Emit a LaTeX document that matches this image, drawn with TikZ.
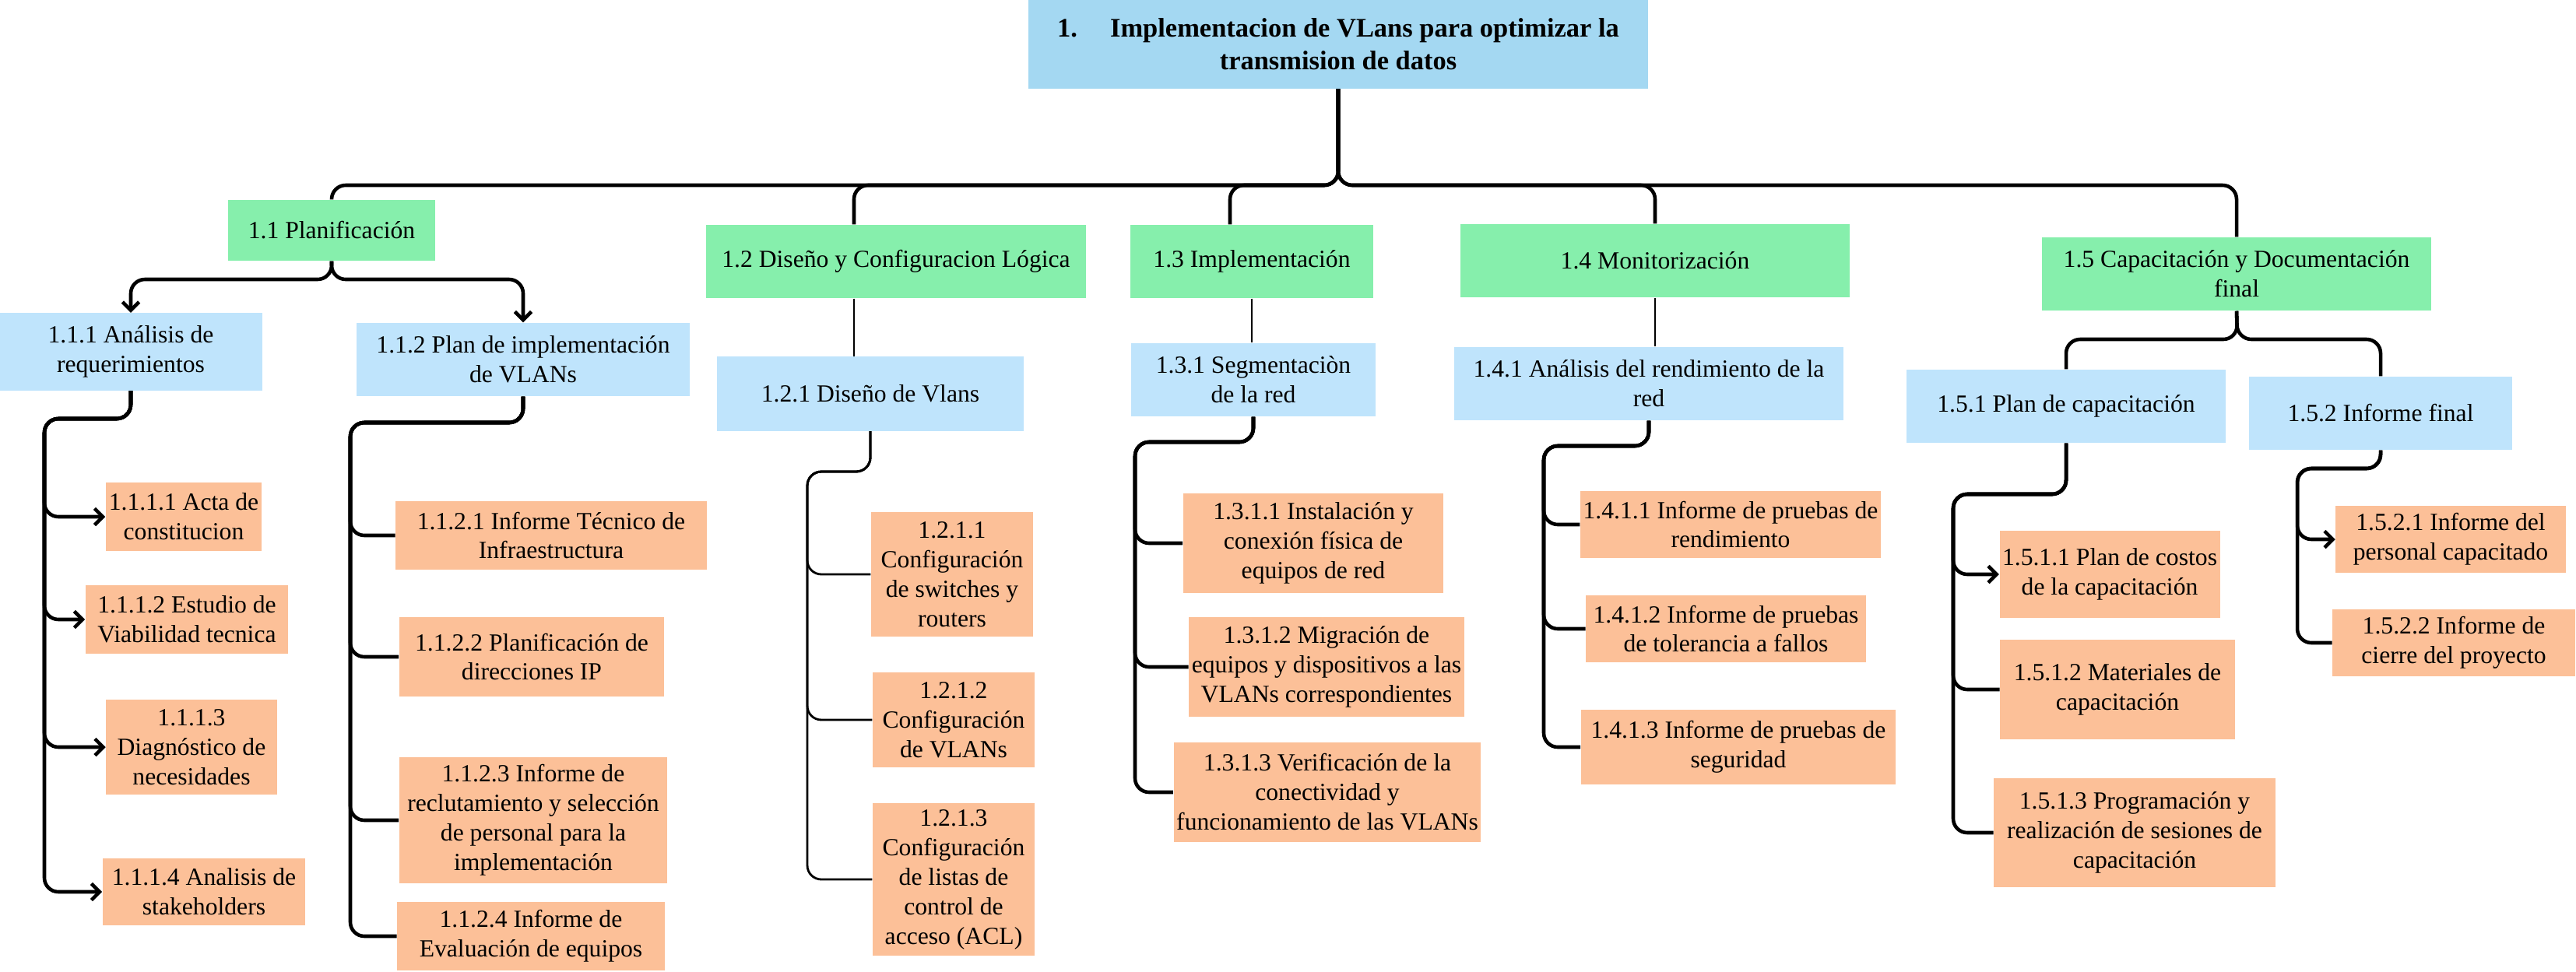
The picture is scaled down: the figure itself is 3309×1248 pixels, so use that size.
\documentclass[tikz,border=0pt]{standalone}
\usepackage{fontspec}
\setmainfont{Liberation Serif}
\usepackage{tikz}
\usepackage{xcolor}
\usetikzlibrary{positioning,shapes,arrows.meta,calc}
\definecolor{rootblue}{RGB}{164,216,242}
\definecolor{nodegreen}{RGB}{134,239,172}
\definecolor{nodeblue}{RGB}{191,228,252}
\definecolor{nodeorange}{RGB}{252,192,152}

\begin{document}
\begin{tikzpicture}[x=0.01cm,y=0.01cm]
\tikzstyle{every node}+=[inner sep=1pt,align=center,font=\fontsize{9}{10.8}\selectfont]
\tikzstyle{lvlzero}=[fill=rootblue,font=\fontsize{9.8}{11.9}\selectfont\bfseries]
\tikzstyle{lvlone}=[fill=nodegreen]
\tikzstyle{lvltwo}=[fill=nodeblue]
\tikzstyle{lvlthree}=[fill=nodeorange]
\tikzstyle{conn}=[black,line width=1.3pt,rounded corners=0.18cm]
\tikzstyle{thinconn}=[conn,line width=0.8pt]
\tikzstyle{tip}=[-{Straight Barb[length=3pt,width=6pt]}]
\useasboundingbox (0,0) rectangle (3309,-1248);
\node [lvlzero,minimum width=7.96cm,minimum height=1.13cm] (root) at (1719,-57) {1.\hspace{12pt}Implementacion de VLans para optimizar la\\transmision de datos};
\node [lvlone,minimum width=2.66cm,minimum height=0.78cm] (p1) at (426,-296) {1.1 Planificación};
\node [lvlone,minimum width=4.87cm,minimum height=0.94cm] (p2) at (1151,-336) {1.2 Diseño y Configuracion Lógica};
\node [lvlone,minimum width=3.12cm,minimum height=0.94cm] (p3) at (1608,-336) {1.3 Implementación};
\node [lvlone,minimum width=4.99cm,minimum height=0.94cm] (p4) at (2126,-335) {1.4 Monitorización};
\node [lvlone,minimum width=4.99cm,minimum height=0.94cm] (p5) at (2873,-352) {1.5 Capacitación y Documentación\\final};
\node [lvltwo,minimum width=3.37cm,minimum height=0.99cm] (a1) at (168,-452) {1.1.1 Análisis de\\requerimientos};
\node [lvltwo,minimum width=4.27cm,minimum height=0.94cm] (a2) at (672,-462) {1.1.2 Plan de implementación\\de VLANs};
\node [lvltwo,minimum width=3.94cm,minimum height=0.95cm] (b1) at (1118,-506) {1.2.1 Diseño de Vlans};
\node [lvltwo,minimum width=3.13cm,minimum height=0.94cm] (c1) at (1610,-488) {1.3.1 Segmentaciòn\\de la red};
\node [lvltwo,minimum width=4.99cm,minimum height=0.94cm] (d1) at (2118,-493) {1.4.1 Análisis del rendimiento de la\\red};
\node [lvltwo,minimum width=4.10cm,minimum height=0.94cm] (e1) at (2654,-522) {1.5.1 Plan de capacitación};
\node [lvltwo,minimum width=3.38cm,minimum height=0.94cm] (e2) at (3058,-531) {1.5.2 Informe final};
\node [lvlthree,minimum width=2.00cm,minimum height=0.88cm] (a11) at (236,-664) {1.1.1.1 Acta de\\constitucion};
\node [lvlthree,minimum width=2.60cm,minimum height=0.88cm] (a12) at (240,-796) {1.1.1.2 Estudio de\\Viabilidad tecnica};
\node [lvlthree,minimum width=2.19cm,minimum height=1.22cm] (a13) at (246,-960) {1.1.1.3\\Diagnóstico de\\necesidades};
\node [lvlthree,minimum width=2.60cm,minimum height=0.85cm] (a14) at (262,-1146) {1.1.1.4 Analisis de\\stakeholders};
\node [lvlthree,minimum width=3.99cm,minimum height=0.88cm] (a21) at (708,-688) {1.1.2.1 Informe Técnico de\\Infraestructura};
\node [lvlthree,minimum width=3.40cm,minimum height=1.01cm] (a22) at (683,-844) {1.1.2.2 Planificación de\\direcciones IP};
\node [lvlthree,minimum width=3.44cm,minimum height=1.61cm] (a23) at (685,-1054) {1.1.2.3 Informe de\\reclutamiento y selección\\de personal para la\\implementación};
\node [lvlthree,minimum width=3.43cm,minimum height=0.88cm] (a24) at (682,-1203) {1.1.2.4 Informe de\\Evaluación de equipos};
\node [lvlthree,minimum width=2.08cm,minimum height=1.59cm] (b11) at (1223,-738) {1.2.1.1\\Configuración\\de switches y\\routers};
\node [lvlthree,minimum width=2.08cm,minimum height=1.22cm] (b12) at (1225,-925) {1.2.1.2\\Configuración\\de VLANs};
\node [lvlthree,minimum width=2.08cm,minimum height=1.96cm] (b13) at (1225,-1130) {1.2.1.3\\Configuración\\de listas de\\control de\\acceso (ACL)};
\node [lvlthree,minimum width=3.34cm,minimum height=1.28cm] (c11) at (1687,-698) {1.3.1.1 Instalación y\\conexión física de\\equipos de red};
\node [lvlthree,minimum width=3.51cm,minimum height=1.28cm] (c12) at (1704,-857) {1.3.1.2 Migración de\\equipos y dispositivos a las\\VLANs correspondientes};
\node [lvlthree,minimum width=3.92cm,minimum height=1.28cm] (c13) at (1705,-1018) {1.3.1.3 Verificación de la\\conectividad y\\funcionamiento de las VLANs};
\node [lvlthree,minimum width=3.84cm,minimum height=0.85cm] (d11) at (2223,-674) {1.4.1.1 Informe de pruebas de\\rendimiento};
\node [lvlthree,minimum width=3.59cm,minimum height=0.85cm] (d12) at (2217,-808) {1.4.1.2 Informe de pruebas\\de tolerancia a fallos};
\node [lvlthree,minimum width=4.04cm,minimum height=0.95cm] (d13) at (2233,-960) {1.4.1.3 Informe de pruebas de\\seguridad};
\node [lvlthree,minimum width=2.75cm,minimum height=1.12cm] (e11) at (2710,-738) {1.5.1.1 Plan de costos\\de la capacitación};
\node [lvlthree,minimum width=3.01cm,minimum height=1.28cm] (e12) at (2720,-886) {1.5.1.2 Materiales de\\capacitación};
\node [lvlthree,minimum width=3.61cm,minimum height=1.40cm] (e13) at (2742,-1070) {1.5.1.3 Programación y\\realización de sesiones de\\capacitación};
\node [lvlthree,minimum width=2.95cm,minimum height=0.86cm] (e21) at (3148,-693) {1.5.2.1 Informe del\\personal capacitado};
\node [lvlthree,minimum width=3.11cm,minimum height=0.86cm] (e22) at (3152,-826) {1.5.2.2 Informe de\\cierre del proyecto};
\coordinate (bus) at (1719,-238);
\coordinate (p1b) at (426,-359);
\coordinate (p5b) at (2874,-436);
\coordinate (a1b) at (57,-538);
\coordinate (a2b) at (450,-543);
\coordinate (b1b) at (1037,-606);
\coordinate (c1b) at (1458,-568);
\coordinate (d1b) at (1983,-573);
\coordinate (e1b) at (2509,-635);
\coordinate (e2b) at (2951,-602);
\draw [conn] (root.south) -- (bus) -| (p1.north);
\draw [conn] (root.south) -- (bus) -| ([xshift=-0.54cm]p2.north);
\draw [conn] (root.south) -- (bus) -| ([xshift=-0.28cm]p3.north);
\draw [conn] (root.south) -- (bus) -| (p4.north);
\draw [conn] (root.south) -- (bus) -| (p5.north);
\draw [conn,tip] (p1.south) -- (p1b) -| (a1.north);
\draw [conn,tip] (p1.south) -- (p1b) -| (a2.north);
\draw [thinconn] ([xshift=-0.54cm]p2.south) -- ([xshift=-0.54cm]p2.south |- b1.north);
\draw [thinconn] (p3.south) -- (p3.south |- c1.north);
\draw [thinconn] (p4.south) -- (p4.south |- d1.north);
\draw [conn] (p5.south) -- (p5b) -| (e1.north);
\draw [conn] (p5.south) -- (p5b) -| (e2.north);
\draw [conn,tip] (a1.south) |- (a1b) |- (a11.west);
\draw [conn,tip] (a1.south) |- (a1b) |- (a12.west);
\draw [conn,tip] (a1.south) |- (a1b) |- (a13.west);
\draw [conn,tip] (a1.south) |- (a1b) |- (a14.west);
\draw [conn] (a2.south) |- (a2b) |- (a21.west);
\draw [conn] (a2.south) |- (a2b) |- (a22.west);
\draw [conn] (a2.south) |- (a2b) |- (a23.west);
\draw [conn] (a2.south) |- (a2b) |- (a24.west);
\draw [thinconn] (b1.south) |- (b1b) |- (b11.west);
\draw [thinconn] (b1.south) |- (b1b) |- (b12.west);
\draw [thinconn] (b1.south) |- (b1b) |- (b13.west);
\draw [conn] (c1.south) |- (c1b) |- (c11.west);
\draw [conn] (c1.south) |- (c1b) |- (c12.west);
\draw [conn] (c1.south) |- (c1b) |- (c13.west);
\draw [conn] (d1.south) |- (d1b) |- (d11.west);
\draw [conn] (d1.south) |- (d1b) |- (d12.west);
\draw [conn] (d1.south) |- (d1b) |- (d13.west);
\draw [conn,tip] (e1.south) |- (e1b) |- (e11.west);
\draw [conn] (e1.south) |- (e1b) |- (e12.west);
\draw [conn] (e1.south) |- (e1b) |- (e13.west);
\draw [conn,tip] (e2.south) |- (e2b) |- (e21.west);
\draw [conn] (e2.south) |- (e2b) |- (e22.west);
\end{tikzpicture}
\end{document}
